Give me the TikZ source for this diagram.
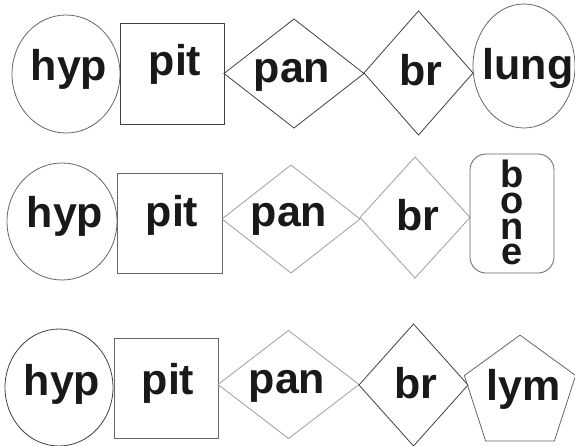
\documentclass[tikz,border=0pt]{standalone}
\usepackage{fontspec}
\setmainfont{Liberation Sans}
\usetikzlibrary{shapes.geometric}
\tikzset{
  lbl/.style={font=\fontsize{43}{50}\selectfont\bfseries, text=black!90, anchor=base, inner sep=0pt},
  lblstack/.style={lbl, font=\fontsize{38}{25.7}\selectfont\bfseries, align=center, anchor=north},
  dk/.style={draw=black!75, line width=0.8pt, inner sep=0pt, outer sep=0pt},
  md/.style={draw=black!60, line width=0.8pt, inner sep=0pt, outer sep=0pt},
  lt/.style={draw=black!38, line width=0.8pt, inner sep=0pt, outer sep=0pt}
}
\begin{document}
\begin{tikzpicture}[x=1pt,y=-1pt]
    \useasboundingbox (0,0) rectangle (575,446);

    % 第一行
    \node[md, ellipse, minimum width=108pt, minimum height=118pt] (hypA) at (66,74) {};
    \node[dk, rectangle, minimum width=104pt, minimum height=101pt] (pitA) at (172,73.5) {};
    \node[dk, diamond, minimum width=140pt, minimum height=109pt] (panA) at (294,73.5) {};
    \node[dk, diamond, minimum width=109pt, minimum height=124pt] (brA) at (418.5,73) {};
    \node[md, ellipse, minimum width=102pt, minimum height=124pt] (lung) at (524,66) {};
    \node[lbl] (tHypA) at (69,81) {hyp};
    \node[lbl] (tPitA) at (175,76) {pit};
    \node[lbl] (tPanA) at (292,83) {pan};
    \node[lbl] (tBrA) at (421,86) {br};
    \node[lbl] (tLung) at (528,80) {lung};

    % 第二行
    \node[md, ellipse, minimum width=110pt, minimum height=117pt] (hypB) at (62,221.5) {};
    \node[md, rectangle, minimum width=105pt, minimum height=100pt] (pitB) at (169.5,223) {};
    \node[lt, diamond, minimum width=138pt, minimum height=108pt] (panB) at (291,219) {};
    \node[lt, diamond, minimum width=110pt, minimum height=121pt] (brB) at (415,217.5) {};
    \node[md, rectangle, rounded corners=16pt, minimum width=84pt, minimum height=119pt] (bone) at (512,213.5) {};
    \node[lbl] (tHypB) at (65,228) {hyp};
    \node[lbl] (tPitB) at (172,226) {pit};
    \node[lbl] (tPanB) at (289,227) {pan};
    \node[lbl] (tBrB) at (418,231) {br};
    \node[lblstack] (tBone) at (512,160) {b\\o\\n\\e};

    % 第三行
    \node[dk, ellipse, minimum width=108pt, minimum height=117pt] (hypC) at (59,387.5) {};
    \node[md, rectangle, minimum width=104pt, minimum height=100pt] (pitC) at (166,388) {};
    \node[lt, diamond, minimum width=141pt, minimum height=108pt] (panC) at (288.5,384.5) {};
    \node[dk, diamond, minimum width=109pt, minimum height=122pt] (brC) at (413.5,385) {};
    \node[md, regular polygon, regular polygon sides=5, minimum size=117pt] (lym) at (520,393.6) {};
    \node[lbl] (tHypC) at (62,395) {hyp};
    \node[lbl] (tPitC) at (168,394) {pit};
    \node[lbl] (tPanC) at (287,393) {pan};
    \node[lbl] (tBrC) at (416,398) {br};
    \node[lbl] (tLym) at (524,400) {lym};
\end{tikzpicture}
\end{document}
